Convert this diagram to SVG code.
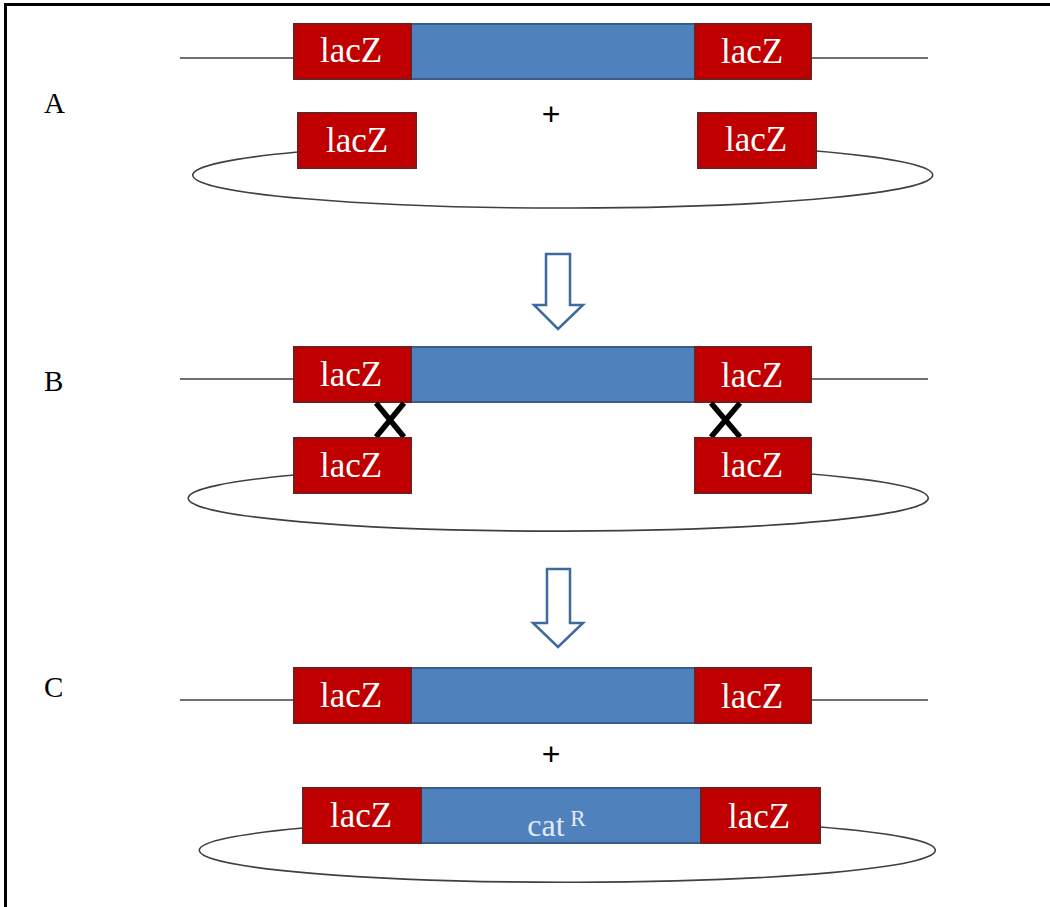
<svg xmlns="http://www.w3.org/2000/svg" width="1050" height="907" viewBox="0 0 1050 907">
  <style>
    .dna { stroke: #404040; stroke-width: 1.6; fill: none; }
    .lac { fill: #C00000; stroke: #7A1A1A; stroke-width: 2; }
    .ins { fill: #4F81BD; stroke: #385D8A; stroke-width: 2; }
    .lbl { font-family: "Liberation Serif", "Times New Roman", serif; font-size: 35px; fill: #FFFFFF; text-anchor: middle; }
    .gene { font-family: "Liberation Serif", "Times New Roman", serif; font-size: 32px; fill: #E3EBF6; text-anchor: middle; }
    .step { font-family: "Liberation Serif", "Times New Roman", serif; font-size: 29px; fill: #000000; }
    .plus { font-family: "Liberation Sans", sans-serif; font-size: 32px; fill: #000000; text-anchor: middle; }
    .cross { stroke: #000000; stroke-width: 5.5; }
    .flow { fill: #FFFFFF; stroke: #3F6A9E; stroke-width: 2.5; stroke-linejoin: miter; }
  </style>

  <rect width="1050" height="907" fill="#FFFFFF"/>
  <!-- frame -->
  <rect x="5.5" y="4.5" width="1100" height="1000" fill="none" stroke="#000000" stroke-width="3"/>

  <!-- step letters -->
  <text class="step" x="44" y="113">A</text>
  <text class="step" x="44" y="391">B</text>
  <text class="step" x="44" y="697">C</text>

  <!-- step A -->
  <g id="chromosomeA">
    <line class="dna" x1="180" y1="58" x2="928" y2="58"/>
    <rect class="ins" x="411" y="24" width="284" height="55"/>
    <rect class="lac" x="294" y="24" width="117" height="55"/>
    <rect class="lac" x="695" y="24" width="116" height="55"/>
    <text class="lbl" x="351" y="62">lacZ</text>
    <text class="lbl" x="752" y="63">lacZ</text>
  </g>
  <text class="plus" x="551" y="125">+</text>
  <g id="plasmidA">
    <path class="dna" d="M298,152 A370,33 0 1 0 816,151"/>
    <rect class="lac" x="298" y="113" width="118" height="55"/>
    <rect class="lac" x="698" y="113" width="118" height="55"/>
    <text class="lbl" x="357" y="152">lacZ</text>
    <text class="lbl" x="756" y="151">lacZ</text>
  </g>

  <!-- step arrows -->
  <g id="arrows">
    <polygon class="flow" points="546,254 570,254 570,305 583,305 558,329 534,305 546,305"/>
    <polygon class="flow" points="547,569 570,569 570,623 583,623 558,647 533,623 547,623"/>
  </g>

  <!-- step B -->
  <g id="chromosomeB">
    <line class="dna" x1="180" y1="379" x2="928" y2="379"/>
    <rect class="ins" x="411" y="347" width="284" height="55"/>
    <rect class="lac" x="294" y="347" width="117" height="55"/>
    <rect class="lac" x="695" y="347" width="116" height="55"/>
    <text class="lbl" x="351" y="386">lacZ</text>
    <text class="lbl" x="752" y="387">lacZ</text>
  </g>
  <g id="crossovers">
    <line class="cross" x1="376" y1="403" x2="404" y2="437"/>
    <line class="cross" x1="404" y1="403" x2="376" y2="437"/>
    <line class="cross" x1="711" y1="403" x2="740" y2="437"/>
    <line class="cross" x1="740" y1="403" x2="711" y2="437"/>
  </g>
  <g id="plasmidB">
    <path class="dna" d="M294,475 A370,33 0 1 0 811,474"/>
    <rect class="lac" x="294" y="438" width="117" height="55"/>
    <rect class="lac" x="695" y="438" width="116" height="55"/>
    <text class="lbl" x="351" y="477">lacZ</text>
    <text class="lbl" x="752" y="477">lacZ</text>
  </g>

  <!-- step C -->
  <g id="chromosomeC">
    <line class="dna" x1="180" y1="700" x2="928" y2="700"/>
    <rect class="ins" x="411" y="668" width="284" height="55"/>
    <rect class="lac" x="294" y="668" width="117" height="55"/>
    <rect class="lac" x="695" y="668" width="116" height="55"/>
    <text class="lbl" x="351" y="707">lacZ</text>
    <text class="lbl" x="752" y="708">lacZ</text>
  </g>
  <text class="plus" x="551" y="765">+</text>
  <g id="plasmidC">
    <path class="dna" d="M303,828 A368,32 0 1 0 820,827"/>
    <rect class="ins" x="421" y="788" width="280" height="55"/>
    <rect class="lac" x="303" y="788" width="118" height="55"/>
    <rect class="lac" x="701" y="788" width="119" height="55"/>
    <text class="lbl" x="361" y="827">lacZ</text>
    <text class="lbl" x="759" y="828">lacZ</text>
    <text class="gene" x="546" y="836">cat</text>
    <text class="gene" x="578" y="826" style="font-size:23px">R</text>
  </g>
</svg>
